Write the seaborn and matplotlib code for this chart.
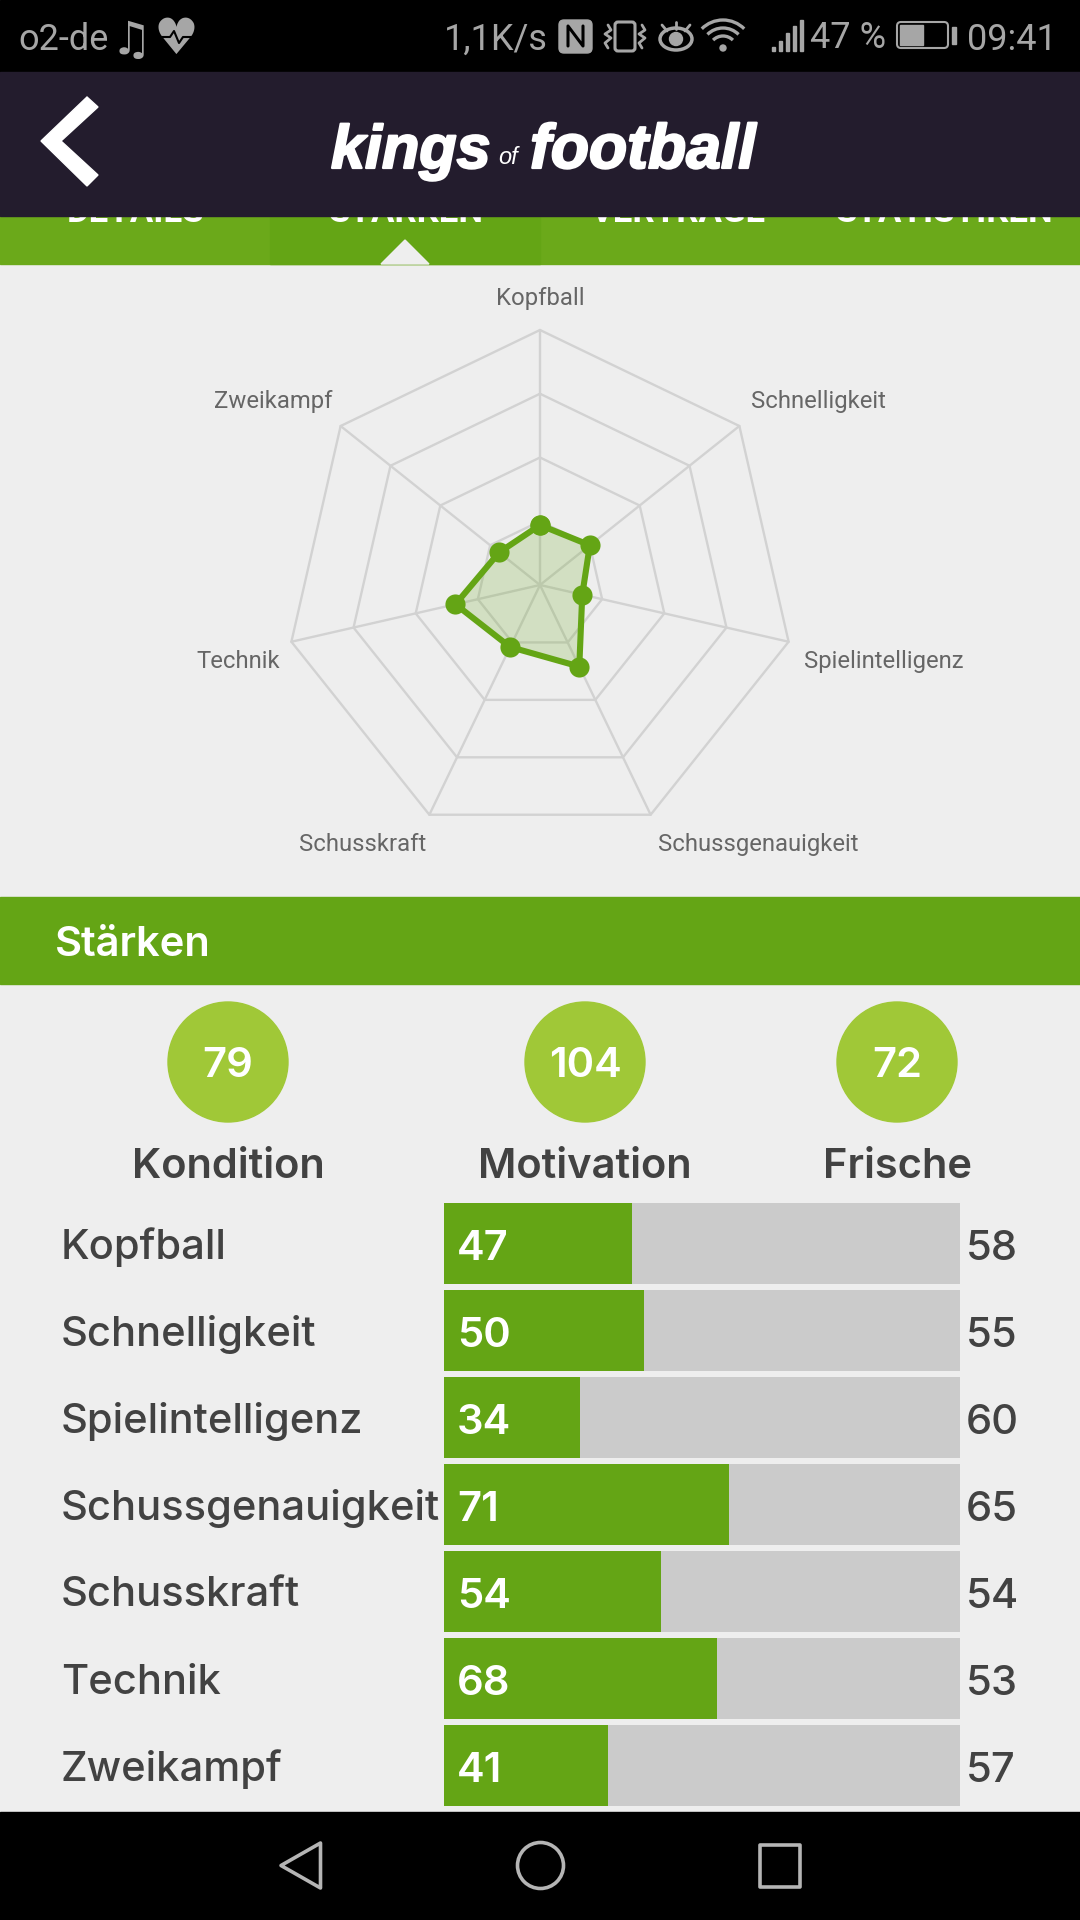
import numpy as np
import pandas as pd
import matplotlib
matplotlib.use('Agg')
import matplotlib.pyplot as plt
import matplotlib.patheffects as pe
from matplotlib.patches import Arc, Circle, Ellipse, FancyBboxPatch, Polygon, Rectangle
import seaborn as sn

sn.set_style('white')
plt.rcParams['font.family'] = ['Inter', 'DejaVu Sans']

W, H = 1080, 1920
GREEN = '#64a515'
DARK = '#424242'

categories = ['Kopfball', 'Schnelligkeit', 'Spielintelligenz', 'Schussgenauigkeit',
              'Schusskraft', 'Technik', 'Zweikampf']
strengths = [47, 50, 34, 71, 54, 68, 41]
potential = [58, 55, 60, 65, 54, 53, 57]
track_max = 128.7
radar_max = 200
radar_rings = [50, 100, 150, 200]
stat_names = ['Kondition', 'Motivation', 'Frische']
stat_values = [79, 104, 72]
tabs = ['DETAILS', 'STÄRKEN', 'VERTRÄGE', 'STATISTIKEN']

fig = plt.figure(figsize=(W / 100, H / 100), dpi=100, facecolor='#eeeeee')


def px_axes(x0, y0, x1, y1, **kw):
    return fig.add_axes([x0 / W, 1 - y1 / H, (x1 - x0) / W, (y1 - y0) / H], **kw)


# page chrome, in pixel coordinates
bg = fig.add_axes([0, 0, 1, 1], zorder=0)
bg.set_xlim(0, W)
bg.set_ylim(H, 0)
bg.axis('off')

bg.add_patch(Rectangle((0, 216), W, 48, color='#6ba91a', zorder=1))
bg.add_patch(Rectangle((270, 216), 270, 48, color=GREEN, zorder=1))
bg.add_patch(Polygon([(381, 264), (405, 240), (429, 264)], color='#eeeeee', zorder=2))
for x, t in zip([136, 406, 678, 945], tabs):
    bg.text(x, 222, t, color='white', fontsize=25, fontweight='bold', ha='center',
            va='baseline', family='Roboto', zorder=2)
bg.add_patch(Rectangle((0, 0), W, 72, color='black', zorder=3))
bg.add_patch(Rectangle((0, 72), W, 144, color='#231c2d', zorder=3))
bg.add_patch(Rectangle((0, 1812), W, 108, color='black', zorder=3))

# status bar
GREY = '#a6a6a6'
status = dict(color=GREY, va='baseline', family='Roboto', fontsize=26, ha='left', zorder=4)
bg.text(18, 50, 'o2-de', **status)
bg.text(444, 50, '1,1K/s', **status)
bg.text(810, 48, '47 %', **status)
bg.text(967, 50, '09:41', **status)
bg.text(131, 54, '♫', fontsize=33, ha='center', va='baseline', color=GREY, family='DejaVu Sans', zorder=4)
bg.text(176, 54, '♥', fontsize=36, ha='center', va='baseline', color=GREY, family='DejaVu Sans', zorder=4)
bg.plot([160, 170, 174, 179, 183, 193], [37, 37, 31, 43, 37, 37], color='black', lw=1.5, zorder=5)

# status icons, no font has these
bg.add_patch(FancyBboxPatch((562, 23), 27, 27, boxstyle='round,pad=3,rounding_size=5', color=GREY, zorder=4))
bg.plot([568, 568, 583, 583], [46, 26, 46, 26], color='black', lw=2.2, zorder=5)
bg.add_patch(FancyBboxPatch((616, 23), 18, 27, boxstyle='round,pad=1,rounding_size=3', fill=False,
                            ec=GREY, lw=2.2, zorder=4))
for x0 in [608, 642]:
    bg.plot([x0, x0 + 3, x0 - 3, x0 + 3, x0 - 3, x0], [25, 30, 34, 38, 43, 48], color=GREY, lw=2, zorder=4)
bg.add_patch(Ellipse((676, 39), 32, 22, fill=False, ec=GREY, lw=2.5, zorder=4))
bg.add_patch(Circle((676, 39), 6.5, color=GREY, zorder=4))
bg.plot([676, 676], [22, 29], color=GREY, lw=2, zorder=4)
bg.plot([662, 667], [25, 31], color=GREY, lw=2, zorder=4)
bg.plot([690, 685], [25, 31], color=GREY, lw=2, zorder=4)
for r in [14, 22, 30]:
    bg.add_patch(Arc((723, 50), 2 * r, 2 * r, theta1=225, theta2=315, ec=GREY, lw=2.4, zorder=4))
bg.add_patch(Circle((723, 48), 3, color=GREY, zorder=4))
for i, h in enumerate([4, 10, 18, 25, 31]):
    bg.add_patch(Rectangle((772 + i * 7, 51 - h), 3.4, h, color=GREY, zorder=4))
bg.add_patch(FancyBboxPatch((899, 24), 47, 22, boxstyle='round,pad=2,rounding_size=4', fill=False,
                            ec=GREY, lw=1.5, zorder=4))
bg.add_patch(Rectangle((900, 25), 23, 20, color=GREY, zorder=4))
bg.add_patch(Rectangle((952, 27), 4, 17, color=GREY, zorder=4))

# header bar
bg.add_patch(Polygon([(87, 97), (98, 107), (61, 141), (98, 175), (87, 186), (41, 141)],
                     color='white', zorder=4))
logo = dict(color='white', family='Liberation Sans', va='baseline', style='italic', zorder=4)
thick = [pe.withStroke(linewidth=1.6, foreground='white')]
bg.text(331, 168, 'kings', fontsize=44, fontweight='bold', ha='left', path_effects=thick, **logo)
bg.text(498, 164, 'of', fontsize=17, ha='left', **logo)
bg.text(530, 168, 'football', fontsize=45, fontweight='bold', ha='left', path_effects=thick, **logo)

# nav bar
nav = dict(fill=False, ec='#b5b5b5', lw=2.6, zorder=4, joinstyle='round')
bg.add_patch(Polygon([(320.5, 1843), (320.5, 1888), (281, 1865.5)], **nav))
bg.add_patch(Circle((540.5, 1865.5), 23, **nav))
bg.add_patch(Rectangle((760, 1845), 40, 42, **nav))

# section header and the three stat circles
bg.add_patch(Rectangle((0, 897), W, 87, color=GREEN, zorder=1))
bg.text(55, 956.5, 'Stärken', color='white', fontsize=30, fontweight='semibold', va='baseline', zorder=2)
for x, name, val in zip([228, 585, 897], stat_names, stat_values):
    bg.add_patch(Circle((x, 1062), 60, color='#a0c837', zorder=1))
    bg.text(x, 1077, str(val), color='white', fontsize=30, fontweight='semibold',
            ha='center', va='baseline', zorder=2)
    bg.text(x, 1178, name, color=DARK, fontsize=30, fontweight='semibold',
            ha='center', va='baseline', zorder=2)

# radar
radar = px_axes(285, 330, 795, 840, projection='polar', zorder=1)
radar.patch.set_alpha(0)
radar.set_theta_zero_location('N')
radar.set_theta_direction(-1)
radar.set_ylim(0, radar_max)
radar.grid(False)
radar.spines['polar'].set_visible(False)
radar.set_xticks([])
radar.set_yticks([])

theta = np.arange(len(categories)) * 2 * np.pi / len(categories)
closed = np.append(theta, 0)
for ring in radar_rings:
    radar.plot(closed, [ring] * len(closed), color='#d2d2d2', lw=1.7, clip_on=False, zorder=1)
for t in theta:
    radar.plot([t, t], [0, radar_max], color='#d2d2d2', lw=1.7, clip_on=False, zorder=1)

radar_df = pd.DataFrame({'theta': closed, 'value': strengths + strengths[:1]})
radar.fill(radar_df['theta'], radar_df['value'], color=GREEN, alpha=0.2, lw=0, zorder=2)
sn.lineplot(data=radar_df, x='theta', y='value', sort=False, estimator=None, color=GREEN,
            lw=4.4, marker='o', markersize=14.5, markeredgewidth=0, ax=radar, zorder=3)
radar.set_xlabel('')
radar.set_ylabel('')

label_offsets = [(0, 32), (12, 25), (15, -20), (7, -30), (-3, -30), (-11, -20), (-8, 25)]
label_align = ['center', 'left', 'left', 'left', 'right', 'right', 'right']
for t, cat, off, ha in zip(theta, categories, label_offsets, label_align):
    radar.annotate(cat, (t, radar_max), xytext=off, textcoords='offset pixels', ha=ha, va='center',
                   color='#666666', fontsize=17.2, family='Roboto', annotation_clip=False)

# bars
bars = px_axes(444, 1200, 960, 1809, zorder=1)
bars.patch.set_alpha(0)
bar_df = pd.DataFrame({'category': categories, 'strength': strengths, 'potential': potential,
                       'track': [track_max] * len(categories)})
sn.barplot(data=bar_df, x='track', y='category', color='#cbcbcb', width=81 / 87, saturation=1,
           linewidth=0, edgecolor='none', ax=bars)
sn.barplot(data=bar_df, x='strength', y='category', color=GREEN, width=81 / 87, saturation=1,
           linewidth=0, edgecolor='none', ax=bars)
bars.set_xlim(0, track_max)
bars.set_ylim(6.5, -0.5)
bars.set_xlabel('')
bars.set_ylabel('')
bars.set_xticks([])
sn.despine(ax=bars, left=True, bottom=True)
bars.tick_params(axis='y', length=0, pad=276, labelsize=30, labelcolor=DARK)
for lab in bars.get_yticklabels():
    lab.set_ha('left')
    lab.set_fontweight('medium')
for i, (s, p) in enumerate(zip(strengths, potential)):
    bars.text(3.3, i + 0.012, str(s), color='white', fontsize=30, fontweight='semibold', va='center_baseline')
    bars.text(track_max + 1.4, i + 0.012, str(p), color=DARK, fontsize=30, fontweight='medium', va='center_baseline')

fig.savefig('out.png', dpi=100, facecolor=fig.get_facecolor())
